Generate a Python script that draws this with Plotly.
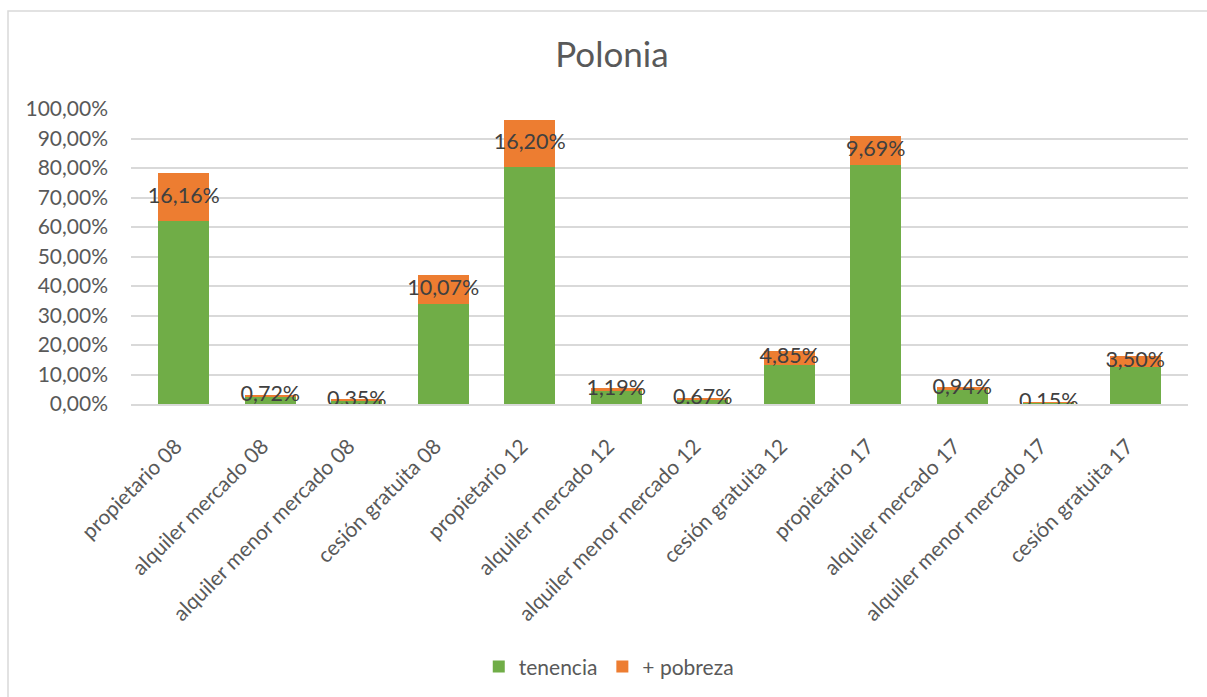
import plotly.graph_objects as go

categories = ["propietario 08", "alquiler mercado 08", "alquiler menor mercado 08", "cesión gratuita 08",
              "propietario 12", "alquiler mercado 12", "alquiler menor mercado 12", "cesión gratuita 12",
              "propietario 17", "alquiler mercado 17", "alquiler menor mercado 17", "cesión gratuita 17"]
tenencia = [62.0, 2.5, 1.1, 33.8, 80.2, 4.4, 1.5, 13.2, 81.0, 4.9, 0.5, 12.7]
pobreza = [16.16, 0.72, 0.35, 10.07, 16.20, 1.19, 0.67, 4.85, 9.69, 0.94, 0.15, 3.50]
tick_vals = [0, 10, 20, 30, 40, 50, 60, 70, 80, 90, 100]
tick_text = ["0,00%", "10,00%", "20,00%", "30,00%", "40,00%", "50,00%", "60,00%", "70,00%",
             "80,00%", "90,00%", "100,00%"]

FONT = "Lato"
GREEN = "#70ad47"
ORANGE = "#ed7d31"

fig = go.Figure()
fig.add_trace(go.Bar(x=categories, y=tenencia, name="tenencia", marker=dict(color=GREEN, line=dict(width=0))))
fig.add_trace(go.Bar(x=categories, y=pobreza, name="+ pobreza", marker=dict(color=ORANGE, line=dict(width=0))))

label_y = [t + p / 2 for t, p in zip(tenencia, pobreza)]
label_text = [f"{p:.2f}%".replace(".", ",") for p in pobreza]
fig.add_trace(go.Scatter(x=categories, y=label_y, mode="text", text=label_text,
                         textposition="middle center", showlegend=False, hoverinfo="skip",
                         textfont=dict(family=FONT, size=21.5, color="#404040")))

fig.update_layout(
    width=1207, height=697,
    barmode="stack", bargap=0.41,
    paper_bgcolor="white", plot_bgcolor="white",
    margin=dict(l=131, r=19, t=109, b=293, autoexpand=False),
    font=dict(family=FONT, color="#595959", size=21),
    title=dict(text="Polonia", x=0.507, xanchor="center", y=1 - 55 / 697, yanchor="middle",
               xref="container", yref="container",
               font=dict(family=FONT, size=35, color="#595959")),
    legend=dict(orientation="h", x=0.452, xanchor="center", y=-0.891, yanchor="middle",
                font=dict(family=FONT, size=21, color="#595959"), traceorder="normal",
                itemsizing="constant", itemwidth=30),
    xaxis=dict(tickangle=-45, showgrid=False, showline=True, linecolor="#d9d9d9", linewidth=1.5,
               ticks="", ticklabelstandoff=20, ticklabelshift=-8,
               tickfont=dict(family=FONT, size=21, color="#595959")),
    yaxis=dict(range=[0, 100], tickvals=tick_vals, ticktext=tick_text, showgrid=True,
               gridcolor="#d9d9d9", gridwidth=1.5, zeroline=False, showline=False, ticks="",
               ticklabelstandoff=22, tickfont=dict(family=FONT, size=21, color="#595959")),
    shapes=[dict(type="rect", xref="paper", yref="paper",
                 x0=(8 - 131) / 1057, x1=(1215 - 131) / 1057,
                 y0=(404 - 705) / 295, y1=(404 - 11) / 295,
                 line=dict(color="#d9d9d9", width=1.5), fillcolor="rgba(0,0,0,0)", layer="below")],
)

fig.write_html("out.html")
